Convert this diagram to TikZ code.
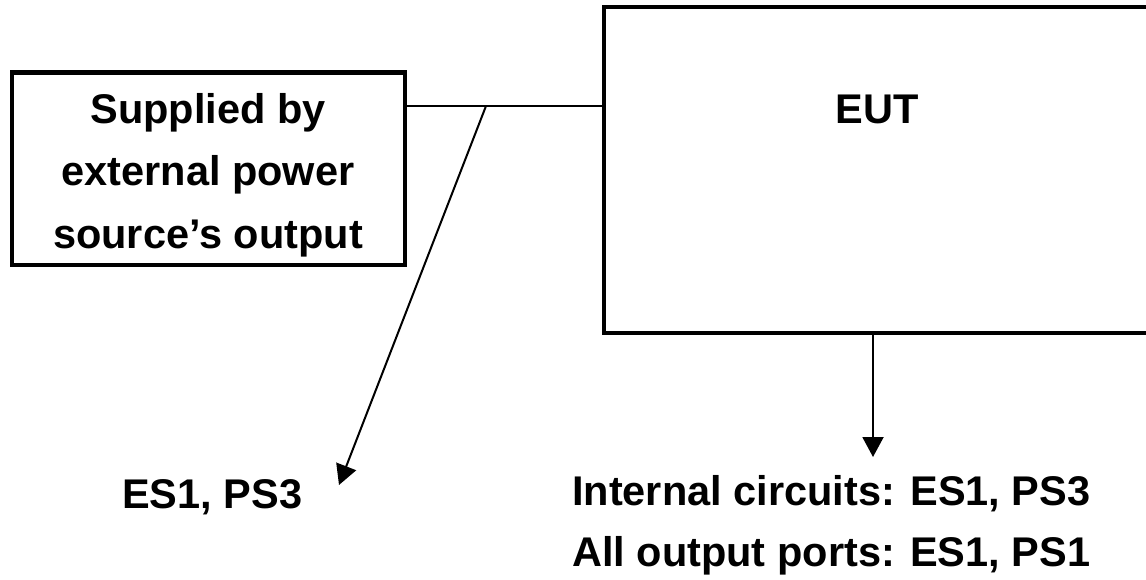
\documentclass[tikz,border=0pt]{standalone}
\usepackage{fontspec}
\setmainfont{Liberation Sans}
\usetikzlibrary{arrows.meta}
\begin{document}
\begin{tikzpicture}[x=1pt,y=-1pt,
  boxstyle/.style={draw,line width=4.5pt,inner sep=0pt},
  txt/.style={inner sep=0pt,font=\fontsize{41.5}{62.5}\selectfont\bfseries},
  wire/.style={line width=2pt},
  arr/.style={wire,-{Triangle[length=20pt,width=21pt]}}]
\useasboundingbox (0,0) rectangle (1146,579);
\clip (0,0) rectangle (1146,579);
\fill[white] (0,0) rectangle (1146,579);
% source box
\node[boxstyle,minimum width=393pt,minimum height=192.5pt] (src) at (208.5,168.75) {};
\node[txt,anchor=base] (l1) at (208,123) {Supplied by};
\node[txt,anchor=base] (l2) at (208,185.5) {external power};
\node[txt,anchor=base] (l3) at (208,248) {source’s output};
% EUT box (extends past right edge)
\node[boxstyle,minimum width=600pt,minimum height=326pt] (eut) at (904,170) {};
\node[txt,anchor=base] (eutt) at (877,123) {EUT};
% connectors
\coordinate (j) at (486,106);
\coordinate (tip1) at (339,485);
\coordinate (top2) at (873,333);
\coordinate (tip2) at (873,457);
\draw[wire] (src.east |- j) -- (eut.west |- j);
\draw[arr] (j) -- (tip1);
\draw[arr] (eut.south -| top2) -- (tip2);
% labels
\node[txt,anchor=base west] (es) at (122,508) {ES1, PS3};
\node[txt,anchor=base west] (ic) at (572,505) {Internal circuits: ES1, PS3};
\node[txt,anchor=base west] (op) at (572,566) {All output ports: ES1, PS1};
\end{tikzpicture}
\end{document}
